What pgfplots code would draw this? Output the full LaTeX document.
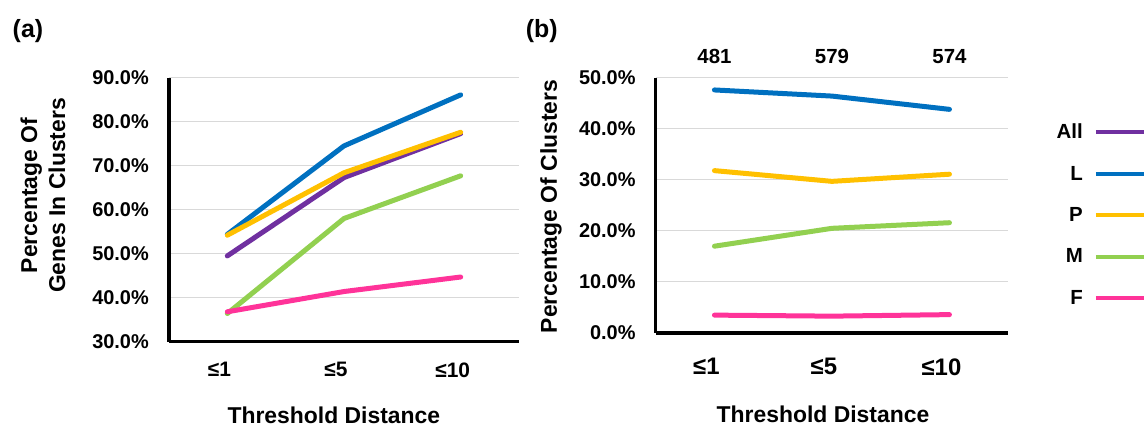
\documentclass[border=0pt]{standalone}
\usepackage{pgfplots}
\pgfplotsset{compat=1.18}
\usepackage{fontspec}
\setmainfont{Liberation Sans}
\usepackage{graphicx}

\definecolor{cAll}{HTML}{7030A0}
\definecolor{cL}{HTML}{0070C0}
\definecolor{cP}{HTML}{FFC000}
\definecolor{cM}{HTML}{92D050}
\definecolor{cF}{HTML}{FF3399}
\definecolor{gridc}{HTML}{D9D9D9}

\newcommand\fs[1]{\fontsize{#1}{#1}\selectfont\bfseries}

\pgfplotsset{
  base/.style={
    scale only axis,
    xmin=-0.5, xmax=2.5,
    xtick={0,1,2},
    xticklabels={≤1,≤5,≤10},
    axis lines=left,
    axis line style={-, line width=3bp, black},
    major tick length=0pt,
    ymajorgrids,
    grid style={line width=1bp, gridc},
    /pgf/number format/assume math mode=true,
    yticklabel={\pgfmathprintnumber[fixed,fixed zerofill,precision=1]{\tick}\%},
    yticklabel style={anchor=east, inner sep=0pt, xshift=-20bp, font=\fs{20}},
    xticklabel style={anchor=north, inner sep=0pt, xshift=-8bp},
    every axis plot/.append style={line width=5bp, line join=round, line cap=round},
    clip=false,
  },
}

\begin{document}
\begin{tikzpicture}
\useasboundingbox (0,0) rectangle (1146bp,427bp);

% Panel (a)
\begin{axis}[base,
  at={(169bp,85.3bp)}, anchor=south west,
  width=350bp, height=264bp,
  ymin=30, ymax=90, ytick={30,40,...,90},
  xticklabel style={yshift=-20.6bp, font=\fs{21}},
  xlabel={Threshold Distance},
  xlabel style={at={(axis description cs:0.471,-0.2795)}, anchor=center, font=\fs{23}},
  ylabel={Percentage Of\\Genes In Clusters},
  ylabel style={at={(axis description cs:-0.36,0.554)}, anchor=center, align=center, font=\fontsize{23}{28}\selectfont\bfseries},
  title={(a)},
  title style={at={(axis description cs:-0.403,1.184)}, anchor=center, yshift=-8bp, inner sep=0pt, font=\fs{25}},
]
\addplot[cAll] coordinates {(0,49.5) (1,67.3) (2,77.3)};
\addplot[cL] coordinates {(0,54.4) (1,74.5) (2,86.1)};
\addplot[cP] coordinates {(0,54.2) (1,68.4) (2,77.6)};
\addplot[cM] coordinates {(0,36.4) (1,58.0) (2,67.7)};
\addplot[cF] coordinates {(0,36.8) (1,41.4) (2,44.7)};
\end{axis}

% Panel (b)
\begin{axis}[base,
  at={(655.7bp,94bp)}, anchor=south west,
  width=352.5bp, height=255.3bp,
  ymin=0, ymax=50, ytick={0,10,...,50},
  xticklabel style={yshift=-25.3bp, font=\fs{24}},
  xlabel={Threshold Distance},
  xlabel style={at={(axis description cs:0.4746,-0.32)}, anchor=center, font=\fs{23}},
  ylabel={Percentage Of Clusters},
  ylabel style={at={(axis description cs:-0.297,0.496)}, anchor=center, font=\fs{23}},
  title={(b)},
  title style={at={(axis description cs:-0.323,1.191)}, anchor=center, yshift=-8bp, inner sep=0pt, font=\fs{25}},
  legend plot pos=right,
  legend cell align=right,
  legend image code/.code={\draw[#1, line width=4bp, line cap=butt] (0bp,0bp) -- (48bp,0bp);},
  legend style={draw=none, fill=none, at={(axis description cs:1.391,0.819)}, anchor=north east,
    font=\fs{20.5}, row sep=25.8bp, column sep=11bp, inner sep=0pt,
    nodes={inner sep=0pt}},
]
\addlegendimage{cAll}
\addlegendentry{All}
\addplot[cL] coordinates {(0,47.6) (1,46.4) (2,43.8)};
\addlegendentry{L}
\addplot[cP] coordinates {(0,31.8) (1,29.7) (2,31.1)};
\addlegendentry{P}
\addplot[cM] coordinates {(0,17.0) (1,20.5) (2,21.6)};
\addlegendentry{M}
\addplot[cF] coordinates {(0,3.5) (1,3.3) (2,3.6)};
\addlegendentry{F}
\addplot[draw=none, forget plot, nodes near coords, point meta=explicit symbolic,
  nodes near coords style={anchor=center, yshift=21bp, font=\fs{20.5}, text=black}]
  coordinates {(0,50)[481] (1,50)[579] (2,50)[574]};
\end{axis}
\end{tikzpicture}
\end{document}
